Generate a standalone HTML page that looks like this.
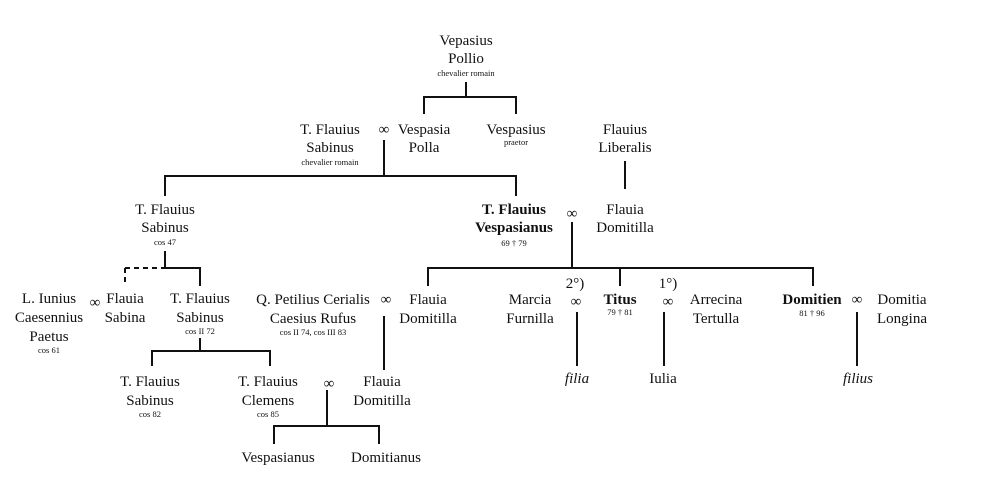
<!DOCTYPE html>
<html><head><meta charset="utf-8"><style>
html,body{margin:0;padding:0;background:#fff;}
svg{display:block;}
text{font-family:"Liberation Serif",serif;font-size:15px;fill:#111;text-anchor:middle;}
.s{font-size:8.5px;}
.b{font-weight:bold;}
.i{font-style:italic;}
line{stroke:#111;stroke-width:2;}
</style></head><body>
<svg width="1000" height="481" viewBox="0 0 1000 481">
<!-- top -->
<text x="466" y="45">Vepasius</text>
<text x="466" y="63">Pollio</text>
<text class="s" x="466" y="76">chevalier romain</text>
<line x1="466" y1="82" x2="466" y2="97"/>
<line x1="423" y1="97" x2="517" y2="97"/>
<line x1="424" y1="96" x2="424" y2="114"/>
<line x1="516" y1="96" x2="516" y2="114"/>

<text x="330" y="134">T. Flauius</text>
<text x="330" y="152">Sabinus</text>
<text class="s" x="330" y="165">chevalier romain</text>
<text x="384" y="134">∞</text>
<text x="424" y="134">Vespasia</text>
<text x="424" y="152">Polla</text>
<text x="516" y="134">Vespasius</text>
<text class="s" x="516" y="145">praetor</text>
<text x="625" y="134">Flauius</text>
<text x="625" y="152">Liberalis</text>
<line x1="625" y1="161" x2="625" y2="189"/>

<line x1="384" y1="140" x2="384" y2="176"/>
<line x1="164" y1="176" x2="517" y2="176"/>
<line x1="165" y1="175" x2="165" y2="196"/>
<line x1="516" y1="175" x2="516" y2="196"/>

<!-- gen 2 -->
<text x="165" y="214">T. Flauius</text>
<text x="165" y="232">Sabinus</text>
<text class="s" x="165" y="245">cos 47</text>
<line x1="165" y1="251" x2="165" y2="268"/>
<line x1="125" y1="268" x2="165" y2="268" stroke-dasharray="5,4"/>
<line x1="125" y1="268" x2="125" y2="286" stroke-dasharray="5,4"/>
<line x1="164" y1="268" x2="201" y2="268"/>
<line x1="200" y1="267" x2="200" y2="286"/>

<text class="b" x="514" y="214">T. Flauius</text>
<text class="b" x="514" y="232">Vespasianus</text>
<text class="s" x="514" y="246">69 † 79</text>
<text x="572" y="218">∞</text>
<text x="625" y="214">Flauia</text>
<text x="625" y="232">Domitilla</text>
<line x1="572" y1="222" x2="572" y2="268"/>
<line x1="427" y1="268" x2="814" y2="268"/>
<line x1="428" y1="267" x2="428" y2="286"/>
<line x1="620" y1="267" x2="620" y2="286"/>
<line x1="813" y1="267" x2="813" y2="286"/>

<!-- gen 3 -->
<text x="49" y="303">L. Iunius</text>
<text x="49" y="322">Caesennius</text>
<text x="49" y="341">Paetus</text>
<text class="s" x="49" y="353">cos 61</text>
<text x="95" y="307">∞</text>
<text x="125" y="303">Flauia</text>
<text x="125" y="322">Sabina</text>
<text x="200" y="303">T. Flauius</text>
<text x="200" y="322">Sabinus</text>
<text class="s" x="200" y="334">cos II 72</text>
<line x1="200" y1="338" x2="200" y2="351"/>
<line x1="151" y1="351" x2="271" y2="351"/>
<line x1="152" y1="350" x2="152" y2="366"/>
<line x1="270" y1="350" x2="270" y2="366"/>

<text x="313" y="304">Q. Petilius Cerialis</text>
<text x="313" y="323">Caesius Rufus</text>
<text class="s" x="313" y="335">cos II 74, cos III 83</text>
<text x="386" y="304">∞</text>
<text x="428" y="304">Flauia</text>
<text x="428" y="323">Domitilla</text>
<line x1="384" y1="316" x2="384" y2="370"/>

<text x="530" y="304">Marcia</text>
<text x="530" y="323">Furnilla</text>
<text x="575" y="288">2°)</text>
<text x="576" y="306">∞</text>
<line x1="577" y1="312" x2="577" y2="366"/>
<text class="i" x="577" y="383">filia</text>

<text class="b" x="620" y="304">Titus</text>
<text class="s" x="620" y="315">79 † 81</text>
<text x="668" y="288">1°)</text>
<text x="668" y="306">∞</text>
<text x="716" y="304">Arrecina</text>
<text x="716" y="323">Tertulla</text>
<line x1="664" y1="312" x2="664" y2="366"/>
<text x="663" y="383">Iulia</text>

<text class="b" x="812" y="304">Domitien</text>
<text class="s" x="812" y="316">81 † 96</text>
<text x="857" y="304">∞</text>
<text x="902" y="304">Domitia</text>
<text x="902" y="323">Longina</text>
<line x1="857" y1="312" x2="857" y2="366"/>
<text class="i" x="858" y="383">filius</text>

<!-- gen 4 -->
<text x="150" y="386">T. Flauius</text>
<text x="150" y="405">Sabinus</text>
<text class="s" x="150" y="417">cos 82</text>
<text x="268" y="386">T. Flauius</text>
<text x="268" y="405">Clemens</text>
<text class="s" x="268" y="417">cos 85</text>
<text x="329" y="388">∞</text>
<text x="382" y="386">Flauia</text>
<text x="382" y="405">Domitilla</text>
<line x1="327" y1="390" x2="327" y2="426"/>
<line x1="273" y1="426" x2="380" y2="426"/>
<line x1="274" y1="425" x2="274" y2="444"/>
<line x1="379" y1="425" x2="379" y2="444"/>
<text x="278" y="462">Vespasianus</text>
<text x="386" y="462">Domitianus</text>
</svg>
</body></html>
